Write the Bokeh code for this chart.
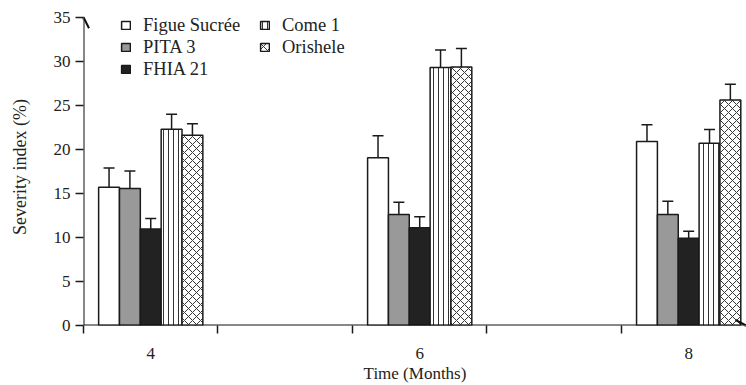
from bokeh.plotting import figure
from bokeh.models import (ColumnDataSource, Range1d, FixedTicker, Whisker, TeeHead,
                          Arrow, OpenHead, Legend, LegendItem)
from bokeh.transform import dodge
from bokeh.embed import file_html
from bokeh.resources import INLINE

# ---- data ----
months = [4, 6, 8]
boundary_ticks = [3.5, 4.5, 5.5, 6.5, 7.5]
y_ticks = [0, 5, 10, 15, 20, 25, 30, 35]
names = ["Figue Sucrée", "PITA 3", "FHIA 21", "Come 1", "Orishele"]
figue = [15.7, 19.05, 20.9]
figue_err = [2.2, 2.5, 1.9]
pita = [15.55, 12.6, 12.6]
pita_err = [2.0, 1.4, 1.5]
fhia = [10.95, 11.1, 9.9]
fhia_err = [1.2, 1.25, 0.8]
come = [22.3, 29.3, 20.7]
come_err = [1.7, 2.0, 1.55]
orishele = [21.6, 29.35, 25.6]
orishele_err = [1.3, 2.1, 1.8]

values = [figue, pita, fhia, come, orishele]
errors = [figue_err, pita_err, fhia_err, come_err, orishele_err]

# ---- styles ----
FONT = "Liberation Serif"
INK = "#1a1a1a"
bar_w = 0.155
offsets = [-2 * bar_w, -bar_w, 0, bar_w, 2 * bar_w]
fills = ["white", "#999999", "#222222", "white", "white"]
hatches = [None, None, None, "vertical_line", "diagonal_cross"]
hatch_scales = [6, 6, 6, 5, 8]

p = figure(width=746, height=385, x_range=Range1d(3.5, 8.43), y_range=Range1d(0, 36),
           output_backend="svg", toolbar_location=None,
           min_border_left=83, min_border_right=0, min_border_top=8, min_border_bottom=60)
p.outline_line_color = None
p.xgrid.visible = False
p.ygrid.visible = False
p.background_fill_color = "white"

renderers = []
for name, vals, errs, off, fc, hp, hs in zip(names, values, errors, offsets, fills, hatches, hatch_scales):
    src = ColumnDataSource(dict(
        month=months, value=vals,
        upper=[v + e for v, e in zip(vals, errs)],
        lower=[v - e for v, e in zip(vals, errs)],
    ))
    kw = {}
    if hp:
        kw = dict(hatch_pattern=hp, hatch_color="#333333", hatch_scale=hs, hatch_weight=1)
    r = p.vbar(x=dodge("month", off), top="value", bottom=0, width=bar_w, source=src,
               fill_color=fc, line_color=INK, line_width=1.5, **kw)
    renderers.append(r)
    w = Whisker(source=src, base=dodge("month", off), upper="upper", lower="lower",
                line_color=INK, line_width=1.5,
                upper_head=TeeHead(size=11, line_color=INK, line_width=1.5),
                lower_head=TeeHead(size=11, line_color=INK, line_width=1.5))
    p.add_layout(w)

# axes
xa = p.xaxis[0]
xa.ticker = FixedTicker(ticks=months, minor_ticks=boundary_ticks)
xa.major_tick_out = 0
xa.major_tick_in = 0
xa.minor_tick_out = 8
xa.minor_tick_in = 0
xa.minor_tick_line_color = INK
xa.minor_tick_line_width = 1.5
xa.axis_line_color = None
xa.major_label_standoff = 14
xa.major_label_text_font = FONT
xa.major_label_text_font_size = "17px"
xa.major_label_text_color = "#222222"
xa.axis_label = "Time (Months)"
xa.axis_label_text_font = FONT
xa.axis_label_text_font_size = "17px"
xa.axis_label_text_font_style = "normal"
xa.axis_label_text_color = "#222222"
xa.axis_label_standoff = 2

ya = p.yaxis[0]
ya.ticker = FixedTicker(ticks=y_ticks, minor_ticks=[])
ya.major_tick_out = 8
ya.major_tick_in = 0
ya.major_tick_line_color = INK
ya.major_tick_line_width = 1.5
ya.axis_line_color = None
ya.major_label_standoff = 5
ya.major_label_text_font = FONT
ya.major_label_text_font_size = "17px"
ya.major_label_text_color = "#222222"
ya.axis_label = "Severity index (%)"
ya.axis_label_text_font = FONT
ya.axis_label_text_font_size = "18px"
ya.axis_label_text_font_style = "normal"
ya.axis_label_text_color = "#222222"
ya.axis_label_standoff = 21

# axis arrows
p.add_layout(Arrow(x_start=3.5, y_start=0, x_end=3.5, y_end=35,
                   line_color="#111111", line_width=2,
                   end=OpenHead(size=11, line_color="#111111", line_width=2)))
p.add_layout(Arrow(x_start=3.5, y_start=0, x_end=8.43, y_end=0,
                   line_color="#111111", line_width=2,
                   end=OpenHead(size=11, line_color="#111111", line_width=2)))

# legends
def make_legend(items, loc):
    return Legend(items=items, location=loc, orientation="vertical",
                  border_line_color=None, background_fill_alpha=0,
                  padding=0, margin=0, spacing=0,
                  glyph_width=11, glyph_height=10, label_height=22, label_standoff=12,
                  label_text_font=FONT, label_text_font_size="18.5px",
                  label_text_color="#222222")

leg1 = make_legend([LegendItem(label=names[i], renderers=[renderers[i]]) for i in range(3)], (37, 245))
leg2 = make_legend([LegendItem(label=names[i], renderers=[renderers[i]]) for i in range(3, 5)], (176, 267))
p.add_layout(leg1)
p.add_layout(leg2)

open("out.html", "w").write(file_html(p, INLINE))
